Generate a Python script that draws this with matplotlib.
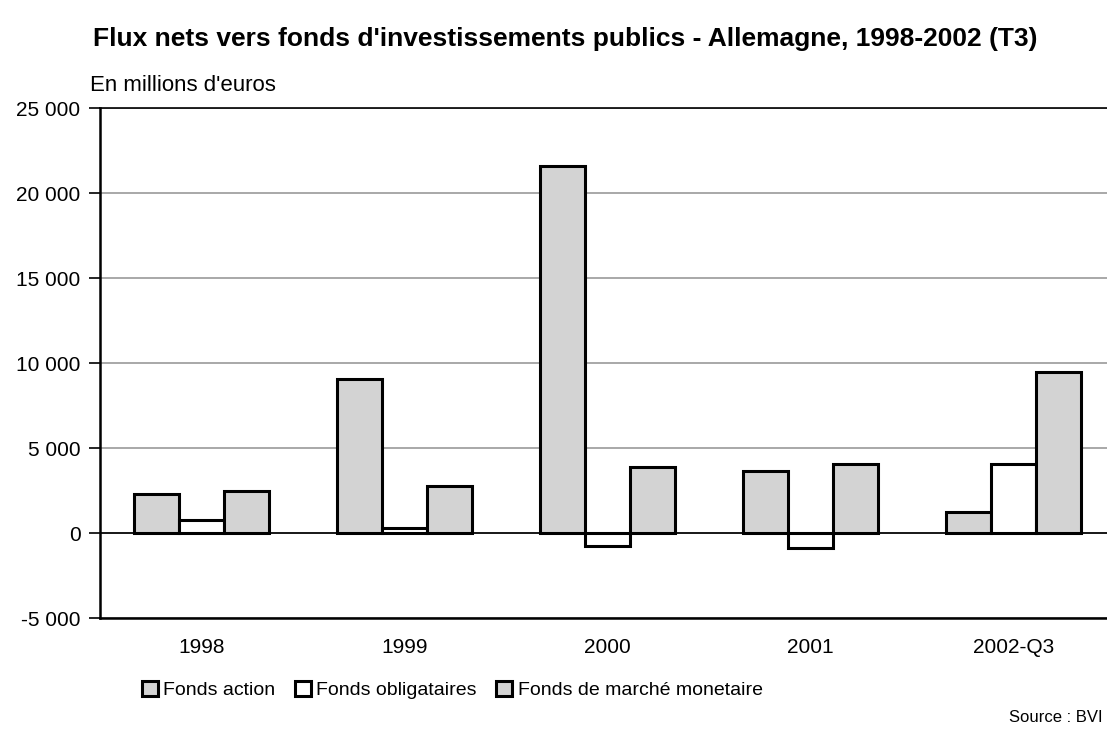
import matplotlib.pyplot as plt
import numpy as np

plt.rcParams['font.family'] = ['Liberation Sans Narrow', 'Liberation Sans', 'DejaVu Sans']

# Net flows, millions of euros
years = ["1998", "1999", "2000", "2001", "2002-Q3"]
fonds_action = [2300, 9100, 21600, 3650, 1250]
fonds_obligataires = [800, 300, -750, -860, 4100]
fonds_monetaire = [2500, 2800, 3900, 4100, 9500]

series = [
  ("Fonds action", fonds_action, "#d3d3d3"),
  ("Fonds obligataires", fonds_obligataires, "white"),
  ("Fonds de marché monetaire", fonds_monetaire, "#d3d3d3"),
]

yticks = [-5000, 0, 5000, 10000, 15000, 20000, 25000]
ylabels = ["-5 000", "0", "5 000", "10 000", "15 000", "20 000", "25 000"]

fig = plt.figure(figsize=(11.07, 7.29), dpi=100)
ax = fig.add_axes([0.0903, 0.1518, 0.917, 0.6996])

x = np.arange(len(years))
w = 0.222
for k, (name, vals, col) in enumerate(series):
  ax.bar(x + (k - 1) * w, vals, w, color=col, edgecolor="black",
         linewidth=2.2, label=name, zorder=3)

ax.set_xlim(-0.5, len(years) - 0.5)
ax.set_ylim(-5000, 25000)
ax.set_yticks(yticks)
ax.set_yticklabels(ylabels)
ax.set_xticks(x)
ax.set_xticklabels(years)
ax.tick_params(axis="y", length=8, width=1.2, labelsize=15, pad=6)
ax.tick_params(axis="x", length=0, labelsize=15, pad=14)
ax.grid(axis="y", color="#999999", linewidth=1.2, zorder=0)
ax.axhline(0, color="black", linewidth=1.2, zorder=2)
ax.spines["right"].set_visible(False)
ax.spines["top"].set_linewidth(1.2)
ax.spines["left"].set_linewidth(1.8)
ax.spines["bottom"].set_linewidth(1.8)

fig.text(0.511, 0.946, "Flux nets vers fonds d'investissements publics - Allemagne, 1998-2002 (T3)",
         ha="center", va="center", fontsize=19, fontweight="bold")
fig.text(0.081, 0.883, "En millions d'euros", ha="left", va="center", fontsize=16)

fig.legend(loc="lower left", bbox_to_anchor=(0.116, 0.022), ncol=3, frameon=False,
           fontsize=14, handlelength=0.8, handleheight=0.8, handletextpad=0.3,
           columnspacing=1.0, borderaxespad=0.3)
fig.text(0.996, 0.006, "Source : BVI", ha="right", va="bottom", fontsize=12)

fig.savefig("out.png", dpi=100)
